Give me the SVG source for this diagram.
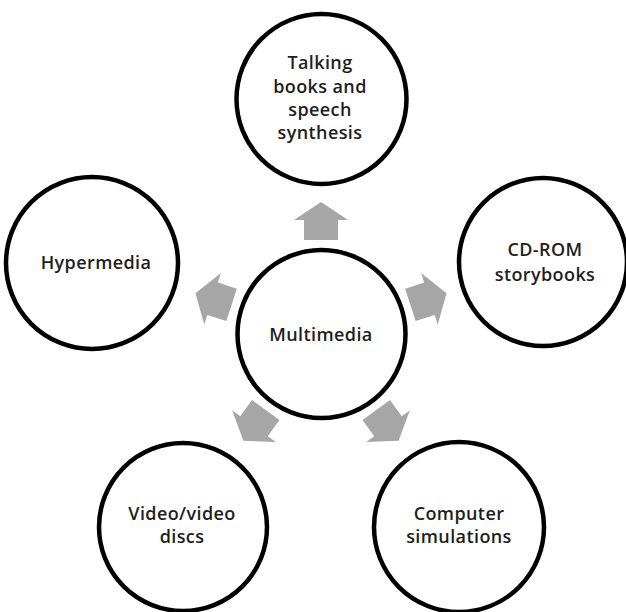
<svg xmlns="http://www.w3.org/2000/svg" width="626" height="612" viewBox="0 0 626 612">
<style>
.node circle{fill:#fff;stroke:#000;stroke-width:4.5}
.node text{font-family:"Open Sans","Liberation Sans",sans-serif;font-weight:600;font-size:18px;letter-spacing:0.4px;fill:#1e1e1e;text-anchor:middle}
.arrow{fill:#a6a6a6}
</style>
<defs>
<polygon id="arr" class="arrow" points="321,202 348,220 338,220 338,240 304,240 304,220 294,220"/>
</defs>
<g id="connectors">
<use href="#arr"/>
<use href="#arr" transform="rotate(72 321 334)"/>
<use href="#arr" transform="rotate(144 321 334)"/>
<use href="#arr" transform="rotate(216 321 334)"/>
<use href="#arr" transform="rotate(288 321 334)"/>
</g>
<g id="multimedia" class="node"><circle cx="321.5" cy="334" r="84"/><text x="321" y="341">Multimedia</text></g>
<g id="talking" class="node"><circle cx="321.5" cy="99" r="85"/>
<text x="320" y="69">Talking</text><text x="320" y="93">books and</text><text x="320" y="116">speech</text><text x="320" y="139">synthesis</text></g>
<g id="hypermedia" class="node"><circle cx="92" cy="263" r="86"/><text x="96" y="269">Hypermedia</text></g>
<g id="cdrom" class="node"><circle cx="543" cy="262" r="84"/><text x="545" y="256">CD-ROM</text><text x="545" y="281">storybooks</text></g>
<g id="video" class="node"><circle cx="183" cy="527" r="84"/><text x="182" y="520">Video/video</text><text x="182" y="543">discs</text></g>
<g id="computer" class="node"><circle cx="459" cy="527" r="85"/><text x="459" y="520">Computer</text><text x="459" y="543">simulations</text></g>
</svg>
